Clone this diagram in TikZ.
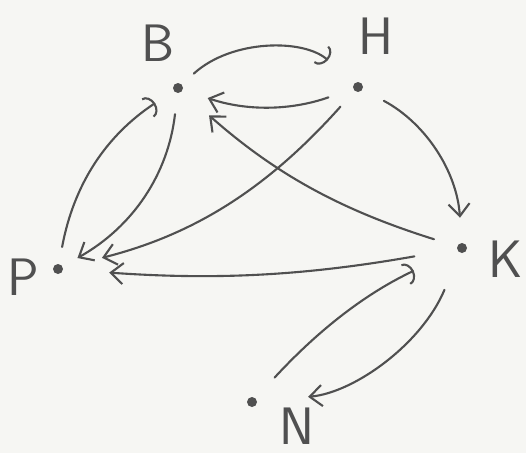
\documentclass[tikz,border=0pt]{standalone}
\usepackage{tikz}
\usetikzlibrary{arrows.meta}
\definecolor{ink}{RGB}{80,80,80}
\definecolor{paper}{RGB}{246,246,243}

\begin{document}
\begin{tikzpicture}[x=0.02cm,y=-0.02cm,
  vtx/.style={circle,fill=ink,inner sep=0pt,minimum size=0.2cm},
  lbl/.style={text=ink,font=\sffamily\fontsize{30}{34}\selectfont},
  arc/.style={draw=ink,line width=1.2pt,line cap=round,
    -{Straight Barb[length=7pt,width=12pt,line width=1.2pt]}},
  hook/.style={draw=ink,line width=1.2pt,line cap=round,
    -{Arc Barb[length=5pt,width=13pt,line width=1.2pt]}}]
% paper
\fill[paper] (0,0) rectangle (526,453);
\useasboundingbox (0,0) rectangle (526,453);
% vertices
\node[vtx] (B) at (178,88) {};
\node[vtx] (H) at (358,87) {};
\node[vtx] (K) at (462,248) {};
\node[vtx] (P) at (58,269) {};
\node[vtx] (N) at (252,402) {};
% names
\node[lbl] (lB) at (158,43) {B};
\node[lbl] (lH) at (376,36) {H};
\node[lbl] (lK) at (506,259) {K};
\node[lbl] (lP) at (23,277) {P};
\node[lbl] (lN) at (297,426) {N};
% edges
\draw[hook,bend left=42,shorten <=0.32cm,shorten >=0.7cm] (B) to (H);
\draw[arc,bend left=19,shorten <=0.52cm,shorten >=0.52cm] (H) to (B);
\draw[arc,bend left=12,shorten <=0.48cm,shorten >=0.72cm] (K) to (B);
\draw[arc,bend left=17,shorten <=0.42cm,shorten >=0.8cm] (H) to (P);
\draw[arc,bend left=7,shorten <=0.86cm,shorten >=0.92cm] (K) to (P);
\draw[hook,bend left=23,shorten <=0.34cm,shorten >=0.44cm] (P) to (B);
\draw[arc,bend left=27,shorten <=0.42cm,shorten >=0.34cm] (B) to (P);
\draw[arc,bend left=29,shorten <=0.48cm,shorten >=0.5cm] (H) to (K);
\draw[hook,bend left=11,shorten <=0.56cm,shorten >=0.96cm] (N) to (K);
\draw[arc,bend left=31,shorten <=0.8cm,shorten >=1.02cm] (K) to (N);
\end{tikzpicture}
\end{document}
